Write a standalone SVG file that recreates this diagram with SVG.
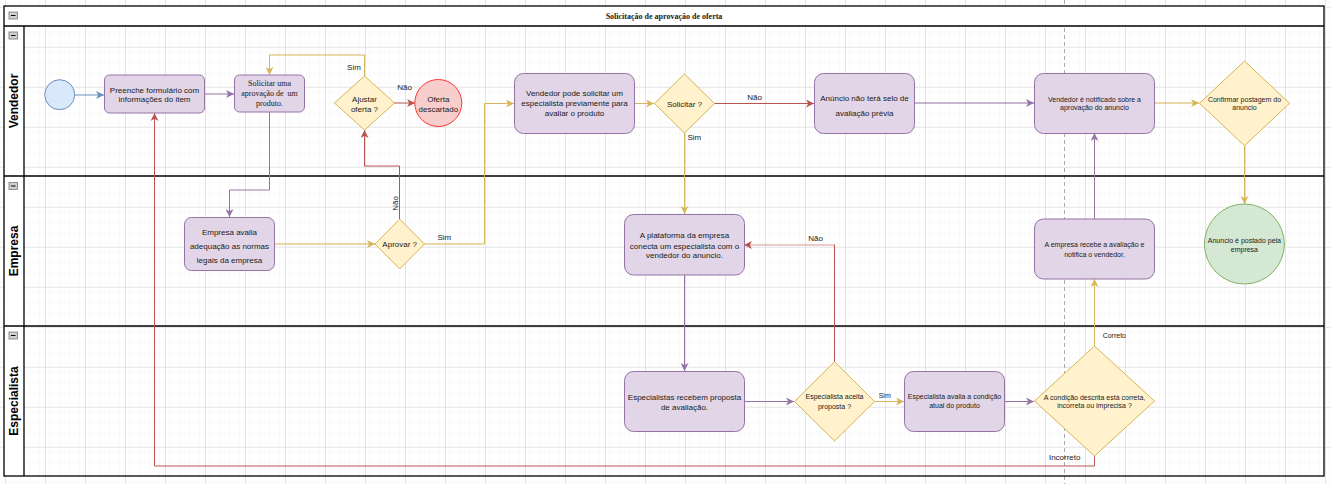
<svg xmlns="http://www.w3.org/2000/svg" width="1331" height="484" viewBox="0 0 1331 484">
<style>
.t{font-family:"Liberation Sans",Arial,sans-serif;fill:#1a1a1a;text-anchor:middle}
.s8{font-size:8px}
.s7{font-size:7px}
.serif{font-family:"Liberation Serif","Times New Roman",serif;font-size:8px;fill:#1a1a1a;text-anchor:middle}
.lane{font-family:"Liberation Sans",Arial,sans-serif;font-size:12px;font-weight:bold;fill:#000;text-anchor:middle;dominant-baseline:central}
.proc{fill:#e1d5e7;stroke:#9673a6;stroke-width:1}
.dec{fill:#fff2cc;stroke:#d6b656;stroke-width:1}
.frame{fill:none;stroke:#000;stroke-width:1.3}
.c{fill:none;stroke-width:1}
.blue{stroke:#6c8ebf}
.pur{stroke:#9673a6}
.yel{stroke:#d6b656}
.red{stroke:#b85450}
.lbl{font-family:"Liberation Sans",Arial,sans-serif;fill:#1a1a1a;text-anchor:middle}
.icon{fill:#d0d0d0;stroke:#777;stroke-width:0.8}
</style>
<defs>
<pattern id="minor" x="5" y="6.7" width="10" height="10" patternUnits="userSpaceOnUse">
<path d="M10,0 V10 M0,10 H10" fill="none" stroke="#f3f3f3" stroke-width="1"/>
</pattern>
<pattern id="major" x="5" y="6.7" width="40" height="40" patternUnits="userSpaceOnUse">
<rect width="40" height="40" fill="url(#minor)"/>
<path d="M0.5,0 V40 M0,0.5 H40" fill="none" stroke="#e3e3e3" stroke-width="1"/>
</pattern>
<marker id="aBlue" markerUnits="userSpaceOnUse" markerWidth="9" markerHeight="8" refX="8" refY="4" orient="auto"><path d="M0,0 L8,4 L0,8 L2.2,4 z" fill="#6c8ebf"/></marker>
<marker id="aPur" markerUnits="userSpaceOnUse" markerWidth="9" markerHeight="8" refX="8" refY="4" orient="auto"><path d="M0,0 L8,4 L0,8 L2.2,4 z" fill="#9673a6"/></marker>
<marker id="aYel" markerUnits="userSpaceOnUse" markerWidth="9" markerHeight="8" refX="8" refY="4" orient="auto"><path d="M0,0 L8,4 L0,8 L2.2,4 z" fill="#d6b656"/></marker>
<marker id="aRed" markerUnits="userSpaceOnUse" markerWidth="9" markerHeight="8" refX="8" refY="4" orient="auto"><path d="M0,0 L8,4 L0,8 L2.2,4 z" fill="#b85450"/></marker>
</defs>

<rect width="1331" height="484" fill="#fff"/>
<rect width="1331" height="484" fill="url(#major)"/>
<line x1="1064.5" y1="0" x2="1064.5" y2="484" stroke="#aaa" stroke-width="1" stroke-dasharray="4 3"/>

<g id="pool">
<rect x="4" y="6" width="1320" height="20" fill="#fff"/>
<rect x="4" y="26" width="20" height="450" fill="#fff"/>
<rect class="frame" x="4" y="6" width="1320" height="470"/>
<line class="frame" x1="4" y1="26" x2="1324" y2="26"/>
<line class="frame" x1="24" y1="26" x2="24" y2="476"/>
<line class="frame" x1="4" y1="176" x2="1324" y2="176"/>
<line class="frame" x1="4" y1="326" x2="1324" y2="326"/>
<text x="664" y="19" font-family="'Liberation Serif','Times New Roman',serif" font-size="8" font-weight="bold" fill="#1a1a1a" text-anchor="middle">Solicitação de aprovação de oferta</text>
<rect class="icon" x="9" y="12" width="8.5" height="7"/><line x1="11" y1="15.5" x2="15.5" y2="15.5" stroke="#000" stroke-width="1"/>
<rect class="icon" x="9" y="32" width="8.5" height="7"/><line x1="11" y1="35.5" x2="15.5" y2="35.5" stroke="#000" stroke-width="1"/>
<rect class="icon" x="9" y="182.5" width="8.5" height="7"/><line x1="11" y1="186" x2="15.5" y2="186" stroke="#000" stroke-width="1"/>
<rect class="icon" x="9" y="332" width="8.5" height="7"/><line x1="11" y1="335.5" x2="15.5" y2="335.5" stroke="#000" stroke-width="1"/>
<text class="lane" transform="translate(14,101) rotate(-90)">Vendedor</text>
<text class="lane" transform="translate(14,251) rotate(-90)">Empresa</text>
<text class="lane" transform="translate(14,401) rotate(-90)">Especialista</text>
</g>

<g id="connectors">
<path class="c blue" stroke-width="2" d="M75,95 H104" marker-end="url(#aBlue)"/>
<path class="c pur" stroke-width="1.5" d="M204,94 H234" marker-end="url(#aPur)"/>
<path class="c pur" d="M269.5,112 V190 H229.5 V217" marker-end="url(#aPur)"/>
<path class="c yel" d="M364.5,76 V55 H269.5 V75" marker-end="url(#aYel)"/>
<path class="c red" stroke-width="1.5" d="M394,103 H415" marker-end="url(#aRed)"/>
<path class="c red" d="M399.5,219 V166 H364.5 V130" marker-end="url(#aRed)"/>
<path class="c yel" stroke-width="2" d="M274,244 H375" marker-end="url(#aYel)"/>
<path class="c yel" d="M424,244 H484.5 V103.5 H514" marker-end="url(#aYel)"/>
<path class="c yel" stroke-width="1.5" d="M634,103.5 H654" marker-end="url(#aYel)"/>
<path class="c red" stroke-width="1.5" d="M714,103.5 H814" marker-end="url(#aRed)"/>
<path class="c yel" d="M684.5,133 V214" marker-end="url(#aYel)"/>
<path class="c pur" stroke-width="1.5" d="M914,103 H1034" marker-end="url(#aPur)"/>
<path class="c yel" d="M1154,103 H1199" marker-end="url(#aYel)"/>
<path class="c yel" d="M1244.5,146 V204" marker-end="url(#aYel)"/>
<path class="c pur" d="M684.5,275 V371" marker-end="url(#aPur)"/>
<path class="c pur" d="M744,401.5 H794" marker-end="url(#aPur)"/>
<path class="c red" d="M834.5,362 V245" />
<path class="c red" stroke-width="2" stroke-opacity="0.6" d="M835,245 H744" marker-end="url(#aRed)"/>
<path class="c yel" d="M874,401.5 H904" marker-end="url(#aYel)"/>
<path class="c pur" d="M1004,401.5 H1034" marker-end="url(#aPur)"/>
<path class="c yel" d="M1094.5,346 V279" marker-end="url(#aYel)"/>
<path class="c pur" d="M1094.5,219 V133" marker-end="url(#aPur)"/>
<path class="c red" d="M1094.5,456 V466 H154.5 V113" marker-end="url(#aRed)"/>
<text class="lbl" font-size="8" x="354" y="69.5">Sim</text>
<text class="lbl" font-size="8" x="404.7" y="89.5">Não</text>
<text class="lbl" font-size="8" transform="translate(397.8,203.5) rotate(-90)">Não</text>
<text class="lbl" font-size="8" x="444.3" y="239.5">Sim</text>
<text class="lbl" font-size="8" x="754.7" y="99.5">Não</text>
<text class="lbl" font-size="8" x="694.3" y="139.5">Sim</text>
<text class="lbl" font-size="8" x="815.7" y="240.5">Não</text>
<text class="lbl" font-size="7" x="884.7" y="398.2">Sim</text>
<text class="lbl" font-size="7" x="1114.3" y="337.8">Correto</text>
<text class="lbl" font-size="8" x="1064.7" y="459.5">Incorreto</text>
</g>

<g id="start"><circle cx="59.7" cy="94.7" r="15" fill="#dae8fc" stroke="#6c8ebf" stroke-width="1"/></g>

<g id="preenche">
<rect class="proc" x="104.5" y="75" width="100" height="38" rx="5"/>
<text class="t s8" x="154.5" y="92.5">Preenche formulário com</text>
<text class="t s8" x="154.5" y="102">informações do item</text>
</g>

<g id="solicitar-aprovacao">
<rect class="proc" x="234.5" y="75" width="70" height="37" rx="5"/>
<text class="serif" x="269.5" y="86">Solicitar uma</text>
<text class="serif" x="269.5" y="96.3" xml:space="preserve">aprovação de  um</text>
<text class="serif" x="269.5" y="106">produto.</text>
</g>

<g id="ajustar">
<path class="dec" d="M364.5,76 L394.5,103 L364.5,130 L334.5,103 Z"/>
<text class="t s8" x="364.5" y="101.5">Ajustar</text>
<text class="t s8" x="364.5" y="111.5">oferta ?</text>
</g>

<g id="oferta-descartado">
<circle cx="438.3" cy="103" r="23.5" fill="#f8cecc" stroke="#ff3333" stroke-width="1"/>
<text class="t s8" x="438.3" y="101.5">Oferta</text>
<text class="t s8" x="438.3" y="111.5">descartado</text>
</g>

<g id="vendedor-pode">
<rect class="proc" x="514.5" y="73.5" width="120" height="60" rx="9"/>
<text class="t s8" x="574.5" y="96">Vendedor pode solicitar um</text>
<text class="t s8" x="574.5" y="106">especialista previamente para</text>
<text class="t s8" x="574.5" y="115.5">avaliar o produto</text>
</g>

<g id="solicitar">
<path class="dec" d="M684.5,74 L714.5,103.5 L684.5,133 L654.5,103.5 Z"/>
<text class="t s8" x="684.5" y="107">Solicitar ?</text>
</g>

<g id="anuncio-sem-selo">
<rect class="proc" x="814.5" y="73.5" width="100" height="60" rx="9"/>
<text class="t s8" x="864.5" y="100.5">Anúncio não terá selo de</text>
<text class="t s8" x="864.5" y="115.5">avaliação prévia</text>
</g>

<g id="vendedor-notificado">
<rect class="proc" x="1034.5" y="73.5" width="120" height="60" rx="9"/>
<text class="t s7" x="1094.5" y="101.5">Vendedor é notificado sobre a</text>
<text class="t s7" x="1094.5" y="110.2">aprovação do anuncio</text>
</g>

<g id="confirmar">
<path class="dec" d="M1244.5,61 L1289.5,103.3 L1244.5,145.7 L1199.5,103.3 Z"/>
<text class="t s7" x="1244.5" y="101.5">Confirmar postagem do</text>
<text class="t s7" x="1244.5" y="110.2">anuncio</text>
</g>

<g id="empresa-avalia">
<rect class="proc" x="184.5" y="217.5" width="90" height="53" rx="7"/>
<text class="t s8" x="229.5" y="234.8">Empresa avalia</text>
<text class="t s8" x="229.5" y="248.8">adequação as normas</text>
<text class="t s8" x="229.5" y="263">legais da empresa</text>
</g>

<g id="aprovar">
<path class="dec" d="M399.7,219 L424.5,244 L399.7,269 L375,244 Z"/>
<text class="t s8" x="399.7" y="247.3">Aprovar ?</text>
</g>

<g id="plataforma">
<rect class="proc" x="624.5" y="214.5" width="120" height="60.5" rx="9"/>
<text class="t s8" x="684.5" y="237.8">A plataforma da empresa</text>
<text class="t s8" x="684.5" y="248.5">conecta um especialista com o</text>
<text class="t s8" x="684.5" y="257.8">vendedor do anuncio.</text>
</g>

<g id="empresa-recebe">
<rect class="proc" x="1034.5" y="219" width="120" height="60" rx="9"/>
<text class="t s7" x="1094.5" y="246.5">A empresa recebe a avaliação e</text>
<text class="t s7" x="1094.5" y="256.5">notifica o vendedor.</text>
</g>

<g id="anuncio-postado">
<circle cx="1244.4" cy="244" r="40" fill="#d5e8d4" stroke="#82b366" stroke-width="1"/>
<text class="t s7" x="1244.4" y="242.5">Anuncio é postado pela</text>
<text class="t s7" x="1244.4" y="251.5">empresa</text>
</g>

<g id="especialistas-recebem">
<rect class="proc" x="624.5" y="371.5" width="120" height="60" rx="9"/>
<text class="t s8" x="684.5" y="399.5">Especialistas recebem proposta</text>
<text class="t s8" x="684.5" y="409.8">de avaliação.</text>
</g>

<g id="especialista-aceita">
<path class="dec" d="M834.5,361.7 L874.5,401.5 L834.5,441 L794.5,401.5 Z"/>
<text class="t s7" x="834.5" y="399.2">Especialista aceita</text>
<text class="t s7" x="834.5" y="409.2">proposta ?</text>
</g>

<g id="especialista-avalia">
<rect class="proc" x="904.5" y="371.5" width="100" height="60" rx="9"/>
<text class="t s7" x="954.5" y="399.2">Especialista avalia a condição</text>
<text class="t s7" x="954.5" y="408.2">atual do produto</text>
</g>

<g id="condicao">
<path class="dec" d="M1094.5,346 L1154.5,401 L1094.5,456 L1034.5,401 Z"/>
<text class="t s7" x="1094.5" y="399.5">A condição descrita está correta,</text>
<text class="t s7" x="1094.5" y="408.2">incorreta ou imprecisa ?</text>
</g>
</svg>
